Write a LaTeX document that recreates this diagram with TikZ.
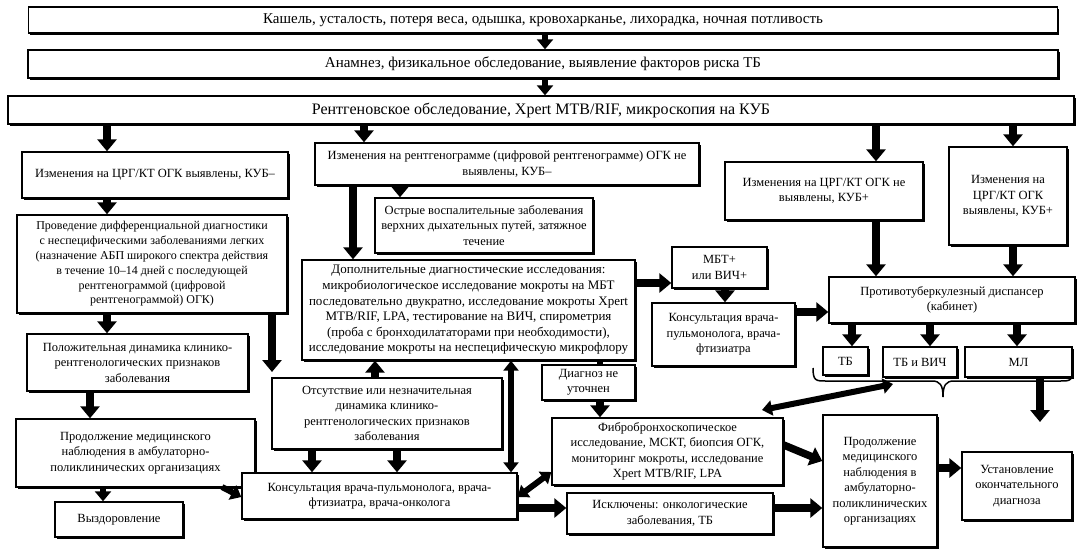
\documentclass[tikz,border=0pt]{standalone}
\usepackage{fontspec}
\setmainfont{Liberation Serif}
\usetikzlibrary{arrows.meta,shadows,calc}
\begin{document}
\begin{tikzpicture}[x=1pt,y=-1pt,
  box/.style={draw=black, line width=1.4pt, fill=white, align=center, inner sep=1pt,
    font=\fontsize{12.5}{15.5}\selectfont,
    drop shadow={shadow xshift=1.6pt, shadow yshift=-1.6pt, fill=black, opacity=1}},
  topbox/.style={box, font=\fontsize{15}{16}\selectfont},
  arr/.style={line width=7.5pt, -{Triangle[width=19pt,length=12pt]}},
  sarr/.style={line width=6pt, -{Triangle[width=16pt,length=10pt]}},
  darr/.style={line width=6pt, {Triangle[width=15pt,length=10pt]}-{Triangle[width=15pt,length=10pt]}},
  bline/.style={line width=6pt}]
\useasboundingbox (0,0) rectangle (1088,555);

% rows
\node[topbox, minimum width=1029, minimum height=26] (top) at (543,20) {Кашель, усталость, потеря веса, одышка, кровохарканье, лихорадка, ночная потливость};
\node[topbox, minimum width=1030, minimum height=28] (anam) at (543,64) {Анамнез, физикальное обследование, выявление факторов риска ТБ};
\node[topbox, minimum width=1066, minimum height=28, font=\fontsize{16}{17}\selectfont] (rent) at (541,110) {Рентгеновское обследование, Xpert MTB/RIF, микроскопия на КУБ};

\node[box, minimum width=266, minimum height=46] (a1) at (155,175) {Изменения на ЦРГ/КТ ОГК выявлены, КУБ–};
\node[box, minimum width=384, minimum height=42] (a2) at (507,164) {Изменения на рентгенограмме (цифровой рентгенограмме) ОГК не\\выявлены, КУБ–};
\node[box, minimum width=198, minimum height=58] (a3) at (824,191) {Изменения на ЦРГ/КТ ОГК не\\выявлены, КУБ+};
\node[box, minimum width=118, minimum height=98] (a4) at (1008,196) {Изменения на\\ЦРГ/КТ ОГК\\выявлены, КУБ+};

\node[box, minimum width=270, minimum height=98, font=\fontsize{12}{14.8}\selectfont] (b1) at (152,264) {Проведение дифференциальной диагностики\\с неспецифическими заболеваниями легких\\(назначение АБП широкого спектра действия\\в течение 10–14 дней с последующей\\рентгенограммой (цифровой\\рентгенограммой) ОГК)};
\node[box, minimum width=218, minimum height=55] (ostr) at (484,225.5) {Острые воспалительные заболевания\\верхних дыхательных путей, затяжное\\течение};
\node[box, minimum width=333, minimum height=100, font=\fontsize{13}{15.6}\selectfont] (dop) at (468.5,310) {Дополнительные диагностические исследования:\\микробиологическое исследование мокроты на МБТ\\последовательно двукратно, исследование мокроты Xpert\\MTB/RIF, LPA, тестирование на ВИЧ, спирометрия\\(проба с бронходилататорами при необходимости),\\исследование мокроты на неспецифическую микрофлору};
\node[box, minimum width=95, minimum height=41] (mbt) at (719.5,267.5) {МБТ+\\или ВИЧ+};
\node[box, minimum width=143, minimum height=63] (kons2) at (723.5,334.5) {Консультация врача-\\пульмонолога, врача-\\фтизиатра};
\node[box, minimum width=246, minimum height=46] (disp) at (952,300) {Противотуберкулезный диспансер\\(кабинет)};
\node[box, minimum width=45, minimum height=28] (tb) at (845.5,361) {ТБ};
\node[box, minimum width=74, minimum height=30] (tbv) at (920,362) {ТБ и ВИЧ};
\node[box, minimum width=107, minimum height=30] (ml) at (1018.5,362) {МЛ};

\node[box, minimum width=221, minimum height=57] (c1) at (137.5,362.5) {Положительная динамика клинико-\\рентгенологических признаков\\заболевания};
\node[box, minimum width=239, minimum height=68] (c2) at (135.5,453) {Продолжение медицинского\\наблюдения в амбулаторно-\\поликлинических организациях};
\node[box, minimum width=128, minimum height=35] (c3) at (119,519.5) {Выздоровление};
\node[box, minimum width=230, minimum height=71] (e1) at (387,413.5) {Отсутствие или незначительная\\динамика клинико-\\рентгенологических признаков\\заболевания};
\node[box, minimum width=275, minimum height=46] (d1) at (379.5,496) {Консультация врача-пульмонолога, врача-\\фтизиатра, врача-онколога};
\node[box, minimum width=93, minimum height=35] (diag) at (588.5,382.5) {Диагноз не\\уточнен};
\node[box, minimum width=231, minimum height=67] (fibro) at (667.5,451.5) {Фибробронхоскопическое\\исследование, МСКТ, биопсия ОГК,\\мониторинг мокроты, исследование\\Xpert MTB/RIF, LPA};
\node[box, minimum width=206, minimum height=41] (iskl) at (670,513.5) {Исключены: онкологические\\заболевания, ТБ};
\node[box, minimum width=114, minimum height=132] (prod2) at (880,481) {Продолжение\\медицинского\\наблюдения в\\амбулаторно-\\поликлинических\\организациях};
\node[box, minimum width=110, minimum height=68] (ust) at (1017,486) {Установление\\окончательного\\диагноза};

% helper x positions
\coordinate (x107) at (107,0);
\coordinate (x90) at (90,0);
\coordinate (x103) at (103,0);
\coordinate (x272) at (272,0);
\coordinate (x364) at (364,0);
\coordinate (x353) at (353,0);
\coordinate (x400) at (400,0);
\coordinate (x375) at (375,0);
\coordinate (x511) at (511,0);
\coordinate (x312) at (312,0);
\coordinate (x397) at (397,0);
\coordinate (x600) at (600,0);
\coordinate (x725) at (725,0);
\coordinate (x876) at (876,0);
\coordinate (x1013) at (1013,0);
\coordinate (x852) at (852,0);
\coordinate (x930) at (930,0);
\coordinate (x1017) at (1017,0);
\coordinate (x545) at (545,0);
\coordinate (y283) at (0,283);
\coordinate (y312) at (0,312);
\coordinate (y508) at (0,508);
\coordinate (y468) at (0,468);
\coordinate (mlend) at (1040,422);
\coordinate (b1end) at (272,372);
\coordinate (c2out) at (222,487);
\coordinate (tbvp) at (893,384);
\coordinate (fibp) at (762,410);

% connectors
\draw[sarr] (top.south -| x545) -- (anam.north -| x545);
\draw[sarr] (anam.south -| x545) -- (rent.north -| x545);
\draw[arr] (rent.south -| x107) -- (a1.north -| x107);
\draw[arr] (rent.south -| x364) -- (a2.north -| x364);
\draw[arr] (rent.south -| x876) -- (a3.north -| x876);
\draw[arr] (rent.south -| x1013) -- (a4.north -| x1013);
\draw[arr] (a1.south -| x107) -- (b1.north -| x107);
\draw[arr] (b1.south -| x107) -- (c1.north -| x107);
\draw[arr] (c1.south -| x90) -- (c2.north -| x90);
\draw[sarr] (c2.south -| x103) -- (c3.north -| x103);
\draw[sarr] (c2out) -- (d1.west |- 0,497);
\draw[arr] (b1.south -| x272) -- (b1end);
\draw[arr] (a2.south -| x353) -- (dop.north -| x353);
\draw[arr] (a2.south -| x400) -- (ostr.north -| x400);
\draw[arr] (e1.north -| x375) -- (dop.south -| x375);
\draw[darr] (dop.south -| x511) -- (d1.north -| x511);
\draw[arr] (e1.south -| x312) -- (d1.north -| x312);
\draw[arr] (e1.south -| x397) -- (d1.north -| x397);
\draw[arr] (dop.east |- y283) -- (mbt.west |- y283);
\draw[arr] (mbt.south -| x725) -- (kons2.north -| x725);
\draw[arr] (kons2.east |- y312) -- (disp.west |- y312);
\draw[arr] (a3.south -| x876) -- (disp.north -| x876);
\draw[arr] (a4.south -| x1013) -- (disp.north -| x1013);
\draw[arr] (disp.south -| x852) -- (tb.north -| x852);
\draw[arr] (disp.south -| x930) -- (tbv.north -| x930);
\draw[arr] (disp.south -| x1017) -- (ml.north -| x1017);
\draw[arr] (ml.south -| mlend) -- (mlend);
\draw[bline] (dop.south -| x600) -- (diag.north -| x600);
\draw[arr] (diag.south -| x600) -- (fibro.north -| x600);
\draw[darr] (tbvp) -- (fibp);
\draw[darr] (d1.east |- 0,497) -- (fibro.west |- 0,472);
\draw[arr] (d1.east |- y508) -- (iskl.west |- y508);
\draw[arr] (fibro.east |- 0,445) -- (prod2.west |- 0,461);
\draw[arr] (iskl.east |- y508) -- (prod2.west |- y508);
\draw[arr] (prod2.east |- y468) -- (ust.west |- y468);

% brace
\draw[line width=1.5pt] (813,368) .. controls (813,381) and (816,381) .. (826,381) -- (932,381)
  .. controls (940,381) and (943,385) .. (943,397)
  .. controls (943,385) and (946,381) .. (954,381) -- (1060,381)
  .. controls (1070,381) and (1073,381) .. (1073,368);
\end{tikzpicture}
\end{document}
